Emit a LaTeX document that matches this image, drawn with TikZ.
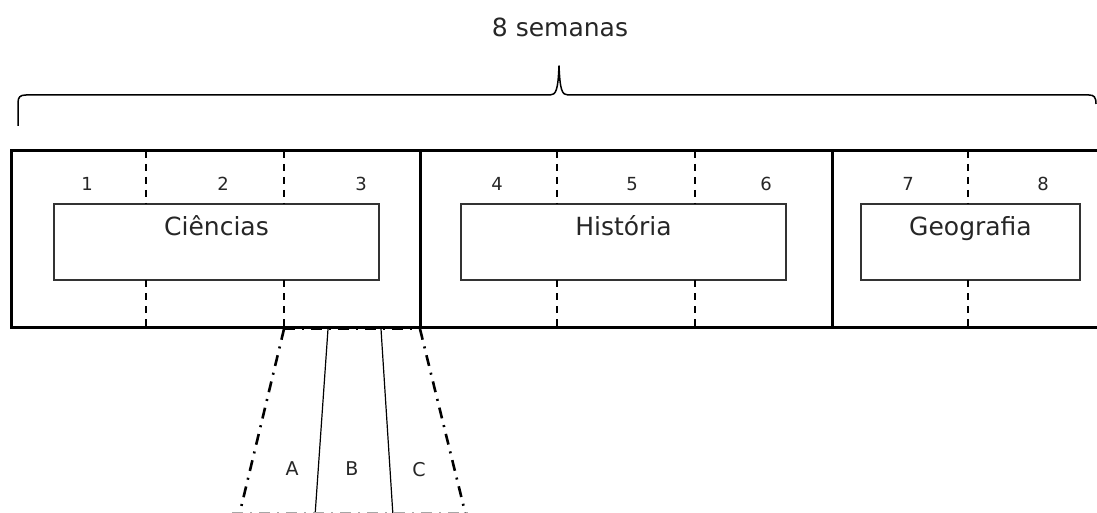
\documentclass[tikz,border=0pt]{standalone}
\usepackage{fontspec}
\setmainfont{DejaVu Sans}
\begin{document}
\begin{tikzpicture}[x=1pt,y=-1pt,
  frame/.style={line width=3pt},
  weekline/.style={line width=1.6pt, dash pattern=on 7pt off 6pt},
  subjbox/.style={draw=black!80, line width=1.4pt, minimum height=76pt, inner sep=0pt},
  subjlabel/.style={font=\fontsize{25}{30}\selectfont, text=black!85, inner sep=0pt},
  weeknum/.style={font=\fontsize{18}{22}\selectfont, text=black!85, inner sep=0pt, anchor=base},
  partlabel/.style={font=\fontsize{19}{22}\selectfont, text=black!85, inner sep=0pt},
  dashdot/.style={line width=2.6pt, dash pattern=on 11pt off 7pt on 2pt off 7pt},
  brace/.style={line width=1.5pt, line join=round}]
\useasboundingbox (0,0) rectangle (1097,513);
\clip (0,0) rectangle (1097,513);

% overall span
\node[subjlabel, anchor=base] (total) at (560,37) {8 semanas};
\draw[brace] (18,126) -- (18,103) .. controls (18,97) and (20,95) .. (26,95)
  -- (550,95) .. controls (556,95) and (558,90) .. (559,66)
  .. controls (560,90) and (562,95) .. (568,95)
  -- (1089,95) .. controls (1094,95) and (1096,97) .. (1096,104);

% outer timeline frame (open to the right)
\draw[frame] (1110,151) -- (11,151) -- (11,327) -- (1110,327);
\draw[frame] (420,151) -- (420,327);
\draw[frame] (832,151) -- (832,327);

% subject boxes
\node[subjbox, minimum width=325pt] (cien) at (216.5,242) {};
\node[subjbox, minimum width=325pt] (hist) at (623.5,242) {};
\node[subjbox, minimum width=219pt] (geo) at (970.5,242) {};
\node[subjlabel, anchor=base] (cienlab) at ([yshift=-32pt]cien.north) {Ciências};
\node[subjlabel, anchor=base] (histlab) at ([yshift=-32pt]hist.north) {História};
\node[subjlabel, anchor=base] (geolab) at ([yshift=-32pt]geo.north) {Geografia};

% week separators
\foreach \x in {146,284,557,695,968}{
  \draw[weekline] (\x,151) -- (\x,204);
  \draw[weekline] (\x,280) -- (\x,327);
}

% week numbers
\node[weeknum] (w1) at (87,190) {1};
\node[weeknum] (w2) at (223,190) {2};
\node[weeknum] (w3) at (361,190) {3};
\node[weeknum] (w4) at (497,190) {4};
\node[weeknum] (w5) at (632,190) {5};
\node[weeknum] (w6) at (766,190) {6};
\node[weeknum] (w7) at (908,190) {7};
\node[weeknum] (w8) at (1043,190) {8};

% expanded detail of week 3
\coordinate (tl) at (284,329);
\coordinate (tr) at (420,329);
\coordinate (bl) at (239,516);
\coordinate (br) at (466,516);
\coordinate (s1t) at (328,329);
\coordinate (s1b) at (315,516);
\coordinate (s2t) at (381,329);
\coordinate (s2b) at (393,516);
\draw[dashdot] (tl) -- (tr);
\draw[dashdot] (tl) -- (bl);
\draw[dashdot] (tr) -- (br);
\draw[line width=1.2pt] (s1t) -- (s1b);
\draw[line width=1.2pt] (s2t) -- (s2b);
\draw[dashdot, line width=2pt, draw=black!35] (232,513) -- (470,513);
\node[partlabel] (pa) at (292,469) {A};
\node[partlabel] (pb) at (352,469) {B};
\node[partlabel] (pc) at (419,470) {C};
\end{tikzpicture}
\end{document}
